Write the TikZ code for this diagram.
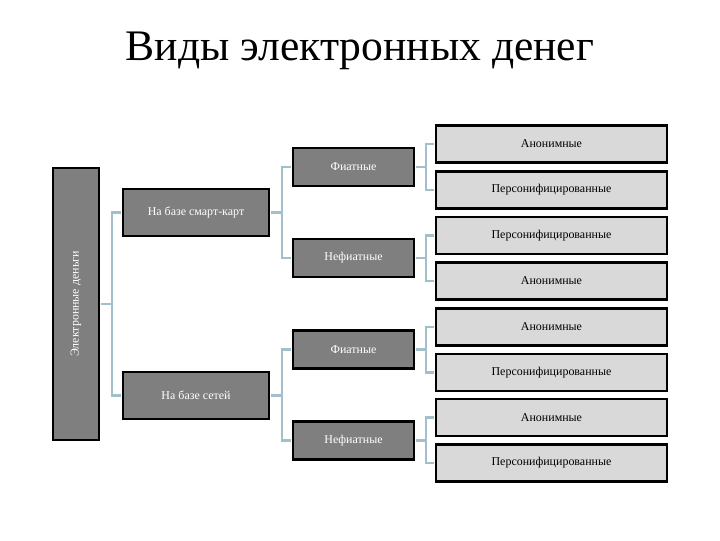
\documentclass[tikz,border=0pt]{standalone}
\usepackage{fontspec}
\setmainfont{Liberation Serif}
\definecolor{boxdark}{HTML}{7F7F7F}
\definecolor{boxlight}{HTML}{D9D9D9}
\definecolor{linkblue}{HTML}{A3BFCC}
\usetikzlibrary{positioning}

\begin{document}
\begin{tikzpicture}[x=0.025cm, y=-0.025cm,
      darkbox/.style={draw=black, line width=1.7pt, fill=boxdark, text=white,
         inner sep=0pt, font=\fontsize{8.5}{10}\selectfont},
      lightbox/.style={draw=black, line width=1.7pt, fill=boxlight, text=black,
         inner sep=0pt, minimum width=5.775cm, minimum height=0.925cm,
         font=\fontsize{8.5}{10}\selectfont},
      midbox/.style={darkbox, minimum width=3.025cm, minimum height=0.95cm},
      basebox/.style={darkbox, minimum width=3.65cm, minimum height=1.175cm},
      link/.style={draw=linkblue, line width=1.5pt, shorten <=0.85pt, shorten >=0.85pt}]
   \useasboundingbox (0,0) rectangle (720,540);
   % Title
   \node[font=\fontsize{31}{36}\selectfont] (title) at (360,51) {Виды электронных денег};
   % Root
   \node[darkbox, minimum width=1.15cm, minimum height=6.8cm] (root) at (76,304) {};
   \node[rotate=90, text=white, font=\fontsize{8.5}{10}\selectfont] (rootlabel) at (root.center) {Электронные деньги};
   % Level 1
   \node[basebox] (smart) at (196,212.5) {На базе смарт-карт};
   \node[basebox] (net) at (196,395.5) {На базе сетей};
   % Level 2
   \node[midbox] (smartfiat) at (353.5,167) {Фиатные};
   \node[midbox] (smartnonfiat) at (353.5,258) {Нефиатные};
   \node[midbox] (netfiat) at (353.5,349.5) {Фиатные};
   \node[midbox] (netnonfiat) at (353.5,440.5) {Нефиатные};
   % Level 3
   \node[lightbox] (sfa) at (551.5,144) {Анонимные};
   \node[lightbox] (sfp) at (551.5,190) {Персонифицированные};
   \node[lightbox] (snp) at (551.5,235.5) {Персонифицированные};
   \node[lightbox] (sna) at (551.5,281) {Анонимные};
   \node[lightbox] (nfa) at (551.5,327) {Анонимные};
   \node[lightbox] (nfp) at (551.5,372.5) {Персонифицированные};
   \node[lightbox] (nna) at (551.5,417.5) {Анонимные};
   \node[lightbox] (nnp) at (551.5,463) {Персонифицированные};
   % Connectors
   \draw[link] (root.east) -- ++(12,0) |- (smart.west);
   \draw[link] (root.east) -- ++(12,0) |- (net.west);
   \draw[link] (smart.east) -- ++(12,0) |- (smartfiat.west);
   \draw[link] (smart.east) -- ++(12,0) |- (smartnonfiat.west);
   \draw[link] (net.east) -- ++(12,0) |- (netfiat.west);
   \draw[link] (net.east) -- ++(12,0) |- (netnonfiat.west);
   \draw[link] (smartfiat.east) -- ++(11,0) |- (sfa.west);
   \draw[link] (smartfiat.east) -- ++(11,0) |- (sfp.west);
   \draw[link] (smartnonfiat.east) -- ++(11,0) |- (snp.west);
   \draw[link] (smartnonfiat.east) -- ++(11,0) |- (sna.west);
   \draw[link] (netfiat.east) -- ++(11,0) |- (nfa.west);
   \draw[link] (netfiat.east) -- ++(11,0) |- (nfp.west);
   \draw[link] (netnonfiat.east) -- ++(11,0) |- (nna.west);
   \draw[link] (netnonfiat.east) -- ++(11,0) |- (nnp.west);
\end{tikzpicture}
\end{document}
